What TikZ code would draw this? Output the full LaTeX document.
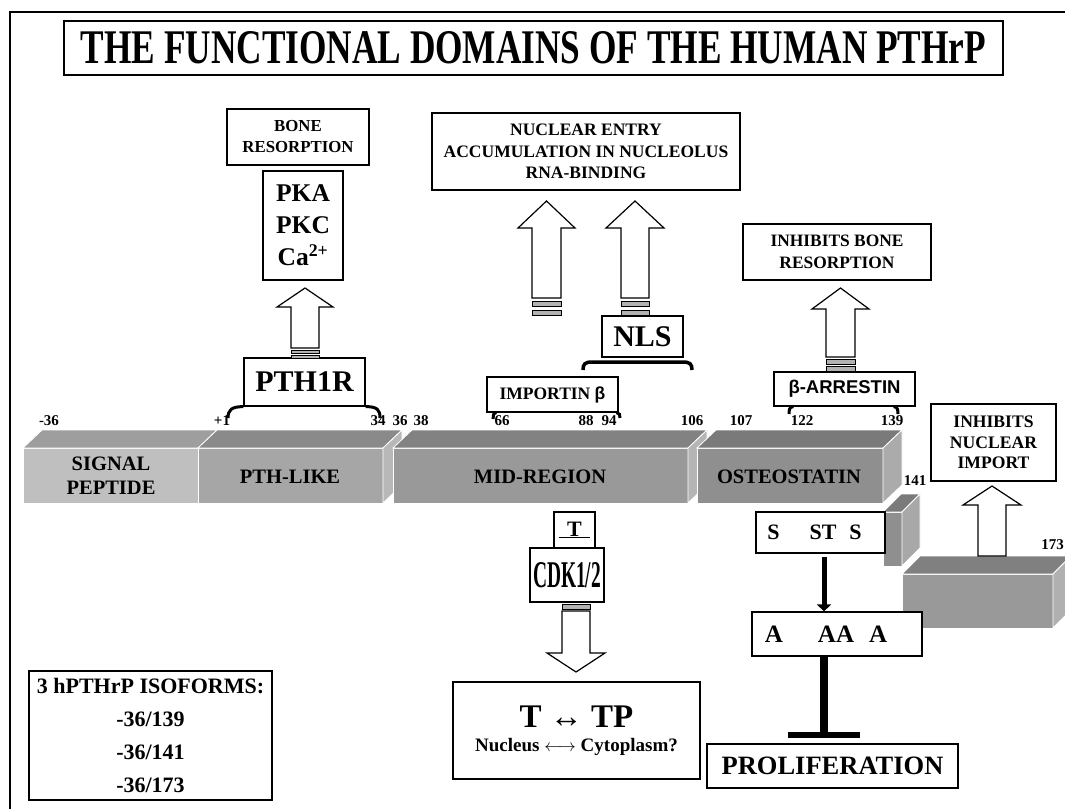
\documentclass[tikz,border=0pt]{standalone}
\usepackage{graphicx}
\usepackage{fontspec}
\setmainfont{Liberation Serif}
\newfontfamily\arialfont{Liberation Sans}
\usetikzlibrary{arrows.meta, positioning, calc}

\begin{document}
\begin{tikzpicture}[x=1pt, y=-1pt, >=Stealth,
    box/.style={draw, line width=1.2pt, fill=white, align=center, inner sep=0pt, font=\bfseries},
    blockarrow/.style={draw, line width=1.2pt, fill=white, line join=miter},
    stripe/.style={draw, line width=0.8pt, fill=black!30},
    hook/.style={line width=3pt},
    num/.style={anchor=base, inner sep=0pt, font=\fontsize{15}{15}\selectfont\bfseries},
    barlabel/.style={align=center, inner sep=0pt, font=\fontsize{20.5}{24}\selectfont\bfseries},
    face/.style={draw=white, line width=0.8pt}]
        \useasboundingbox (0,0) rectangle (1065,809);
        \draw [line width=1.2pt] (10,809) -- (10,12) -- (1065,12);

        % protein bar
        \filldraw [face, fill=black!25] (23,448) rectangle (198,503);
        \filldraw [face, fill=black!35] (198,448) rectangle (383,503);
        \filldraw [face, fill=black!38] (23,448) -- (42,430) -- (217,430) -- (198,448) -- cycle;
        \filldraw [face, fill=black!46] (198,448) -- (217,430) -- (402,430) -- (383,448) -- cycle;
        \filldraw [face, fill=black!28] (383,448) -- (402,430) -- (402,485) -- (383,503) -- cycle;
        \filldraw [face, fill=black!40] (393,448) rectangle (688,503);
        \filldraw [face, fill=black!49] (393,448) -- (412,430) -- (707,430) -- (688,448) -- cycle;
        \filldraw [face, fill=black!29] (688,448) -- (707,430) -- (707,485) -- (688,503) -- cycle;
        \filldraw [face, fill=black!44] (697,448) rectangle (883,503);
        \filldraw [face, fill=black!52] (697,448) -- (716,430) -- (902,430) -- (883,448) -- cycle;
        \filldraw [face, fill=black!33] (883,448) -- (902,430) -- (902,485) -- (883,503) -- cycle;
        % isoform tails
        \filldraw [face, fill=black!44] (883,512) rectangle (902,566);
        \filldraw [face, fill=black!52] (883,512) -- (901,494) -- (920,494) -- (902,512) -- cycle;
        \filldraw [face, fill=black!34] (902,512) -- (920,494) -- (920,548) -- (902,566) -- cycle;
        \filldraw [face, fill=black!40] (902,574) rectangle (1053,628);
        \filldraw [face, fill=black!50] (902,574) -- (920,556) -- (1071,556) -- (1053,574) -- cycle;
        \filldraw [face, fill=black!31] (1053,574) -- (1071,556) -- (1071,610) -- (1053,628) -- cycle;

        \node [barlabel] (signal) at (111,476) {SIGNAL\\PEPTIDE};
        \node [barlabel] (pthlike) at (290,477) {PTH-LIKE};
        \node [barlabel] (midregion) at (540,477) {MID-REGION};
        \node [barlabel] (osteostatin) at (789,477) {OSTEOSTATIN};

        % residue numbers
        \node [num] (res-36) at (49,425) {-36};
        \node [num] (res1) at (222,425) {+1};
        \node [num] (res34) at (378,425) {34};
        \node [num] (res36) at (400,425) {36};
        \node [num] (res38) at (421,425) {38};
        \node [num] (res66) at (502,425) {66};
        \node [num] (res88) at (586,425) {88};
        \node [num] (res94) at (609,425) {94};
        \node [num] (res106) at (692,425) {106};
        \node [num] (res107) at (741,425) {107};
        \node [num] (res122) at (802,425) {122};
        \node [num] (res139) at (892,425) {139};
        \node [num] (res141) at (915,485) {141};
        \node [num, anchor=base east] (res173) at (1064,549) {173};

        % boxes
        \node [box, minimum width=939pt, minimum height=54pt] (title) at (533.5,48)
            {\resizebox{905pt}{32pt}{THE FUNCTIONAL DOMAINS OF THE HUMAN PTHrP}};
        \node [box, minimum width=142pt, minimum height=56pt, font=\fontsize{16.8}{21}\selectfont\bfseries] (bone) at (298,137) {BONE\\RESORPTION};
        \node [box, minimum width=80pt, minimum height=109pt, font=\fontsize{25.5}{32}\selectfont\bfseries] (kinases) at (303,225.5) {PKA\\PKC\\Ca\textsuperscript{2+}};
        \node [box, minimum width=121pt, minimum height=48pt, font=\fontsize{30}{30}\selectfont\bfseries] (pth1r) at (304.5,382) {PTH1R};
        \node [box, minimum width=308pt, minimum height=77pt, font=\fontsize{17.5}{21.5}\selectfont\bfseries] (nuclear) at (586,151.5) {NUCLEAR ENTRY\\ACCUMULATION IN NUCLEOLUS\\RNA-BINDING};
        \node [box, minimum width=81pt, minimum height=41pt, font=\fontsize{30}{30}\selectfont\bfseries] (nls) at (642.5,336.5) {NLS};
        \node [box, minimum width=131pt, minimum height=35pt, font=\fontsize{17.5}{17.5}\selectfont\bfseries] (importin) at (552.5,394.5) {IMPORTIN {\arialfont β}};
        \node [box, minimum width=188pt, minimum height=56pt, font=\fontsize{17.4}{22}\selectfont\bfseries] (inhbone) at (837,252) {INHIBITS BONE\\RESORPTION};
        \node [box, minimum width=141pt, minimum height=34pt, font=\fontsize{18.5}{18.5}\selectfont\arialfont\bfseries] (arrestin) at (844.5,389) {β-ARRESTIN};
        \node [box, minimum width=125pt, minimum height=77pt, font=\fontsize{17.6}{20.5}\selectfont\bfseries] (inhnuclear) at (993.5,442.5) {INHIBITS\\NUCLEAR\\IMPORT};
        \node [box, minimum width=129pt, minimum height=41pt, font=\fontsize{22}{22}\selectfont\bfseries] (sites) at (820.5,532.5) {S\hspace{30pt}ST\hspace{13pt}S\hspace{12pt}};
        \node [box, minimum width=170pt, minimum height=44pt, font=\fontsize{25}{25}\selectfont\bfseries] (mutant) at (837,634) {A\hspace{35pt}AA\hspace{15pt}A\hspace{22pt}};
        \node [box, minimum width=251pt, minimum height=44pt, font=\fontsize{26.5}{26.5}\selectfont\bfseries] (prolif) at (832.5,766) {PROLIFERATION};
        \node [box, minimum width=41pt, minimum height=36pt, font=\fontsize{22}{22}\selectfont\bfseries] (thr) at (574.5,530) {\underline{\hspace{8.5pt}T\hspace{8.5pt}}};
        \node [box, minimum width=74pt, minimum height=54pt] (cdk) at (567,575) {\resizebox{68pt}{25pt}{CDK1/2}};
        \node [box, minimum width=247pt, minimum height=97pt] (phospho) at (576.5,730.5)
            {{\fontsize{33}{33}\selectfont T ↔ TP}\\[10pt]{\fontsize{19}{19}\selectfont Nucleus $\longleftrightarrow$ Cytoplasm?}};
        \node [box, minimum width=243pt, minimum height=129pt, font=\fontsize{22}{33}\selectfont\bfseries] (isoforms) at (150.5,735.5) {3 hPTHrP ISOFORMS:\\-36/139\\-36/141\\-36/173};

        % block arrows
        \draw [blockarrow] (291,348) -- (291,307) -- (277,307) -- (305,288) -- (333,307) -- (319,307) -- (319,348) -- cycle;
        \draw [stripe] (291,350) rectangle (319,353);
        \draw [stripe] (291,355) rectangle (319,358);
        \draw [blockarrow] (532,298) -- (532,228) -- (518,228) -- (546.5,201) -- (575,228) -- (561,228) -- (561,298) -- cycle;
        \draw [stripe] (532,301) rectangle (561,306);
        \draw [stripe] (532,310) rectangle (561,315);
        \draw [blockarrow] (621,298) -- (621,228) -- (606,228) -- (635,201) -- (664,228) -- (649,228) -- (649,298) -- cycle;
        \draw [stripe] (621,301) rectangle (649,306);
        \draw [stripe] (621,310) rectangle (649,315);
        \draw [blockarrow] (826,357) -- (826,309) -- (812,309) -- (840.5,288) -- (869,309) -- (855,309) -- (855,357) -- cycle;
        \draw [stripe] (826,359) rectangle (855,364);
        \draw [stripe] (826,366) rectangle (855,371);
        \draw [blockarrow] (978,556) -- (978,505) -- (963,505) -- (992,486) -- (1021,505) -- (1006,505) -- (1006,556) -- cycle;
        \draw [stripe] (562,604) rectangle (590,609);
        \draw [blockarrow] (562,611) -- (562,653) -- (547,653) -- (576,672) -- (605,653) -- (590,653) -- (590,611) -- cycle;

        % binding hooks
        \coordinate (pthL) at (228,418);
        \coordinate (pthR) at (380,418);
        \draw [hook] (pth1r.south west) .. controls +(-12,0) and +(0,-8) .. (pthL);
        \draw [hook] (pth1r.south east) .. controls +(12,0) and +(0,-8) .. (pthR);
        \coordinate (impL) at (493,419);
        \coordinate (impR) at (620,418);
        \draw [hook] ([xshift=10pt]importin.south west) .. controls +(-3,0) and +(0,-3) .. (impL);
        \draw [hook] ([xshift=-2pt]importin.south east) .. controls +(3,0) and +(0,-3) .. (impR);
        \coordinate (arrL) at (789,414);
        \coordinate (arrR) at (898,414);
        \draw [hook] ([xshift=20pt]arrestin.south west) .. controls +(-4,0) and +(0,-4) .. (arrL);
        \draw [hook] ([xshift=-22pt]arrestin.south east) .. controls +(4,0) and +(0,-4) .. (arrR);
        \coordinate (nlsL) at (583,370);
        \coordinate (nlsR) at (692,370);
        \draw [hook, line width=3.5pt] (nlsL) .. controls +(0,-6) and +(-7,0) .. (592,362) -- (683,362) .. controls +(7,0) and +(0,-6) .. (nlsR);

        % proliferation
        \coordinate (sitesout) at (824,557);
        \coordinate (stopbar) at (824,735);
        \draw [line width=5pt, -{Triangle[length=7pt, width=14pt]}] (sitesout) -- (mutant.north -| sitesout);
        \draw [line width=8pt] (mutant.south -| stopbar) -- (stopbar);
        \draw [line width=6pt] (stopbar) +(-36,0) -- +(36,0);
    \end{tikzpicture}
\end{document}
